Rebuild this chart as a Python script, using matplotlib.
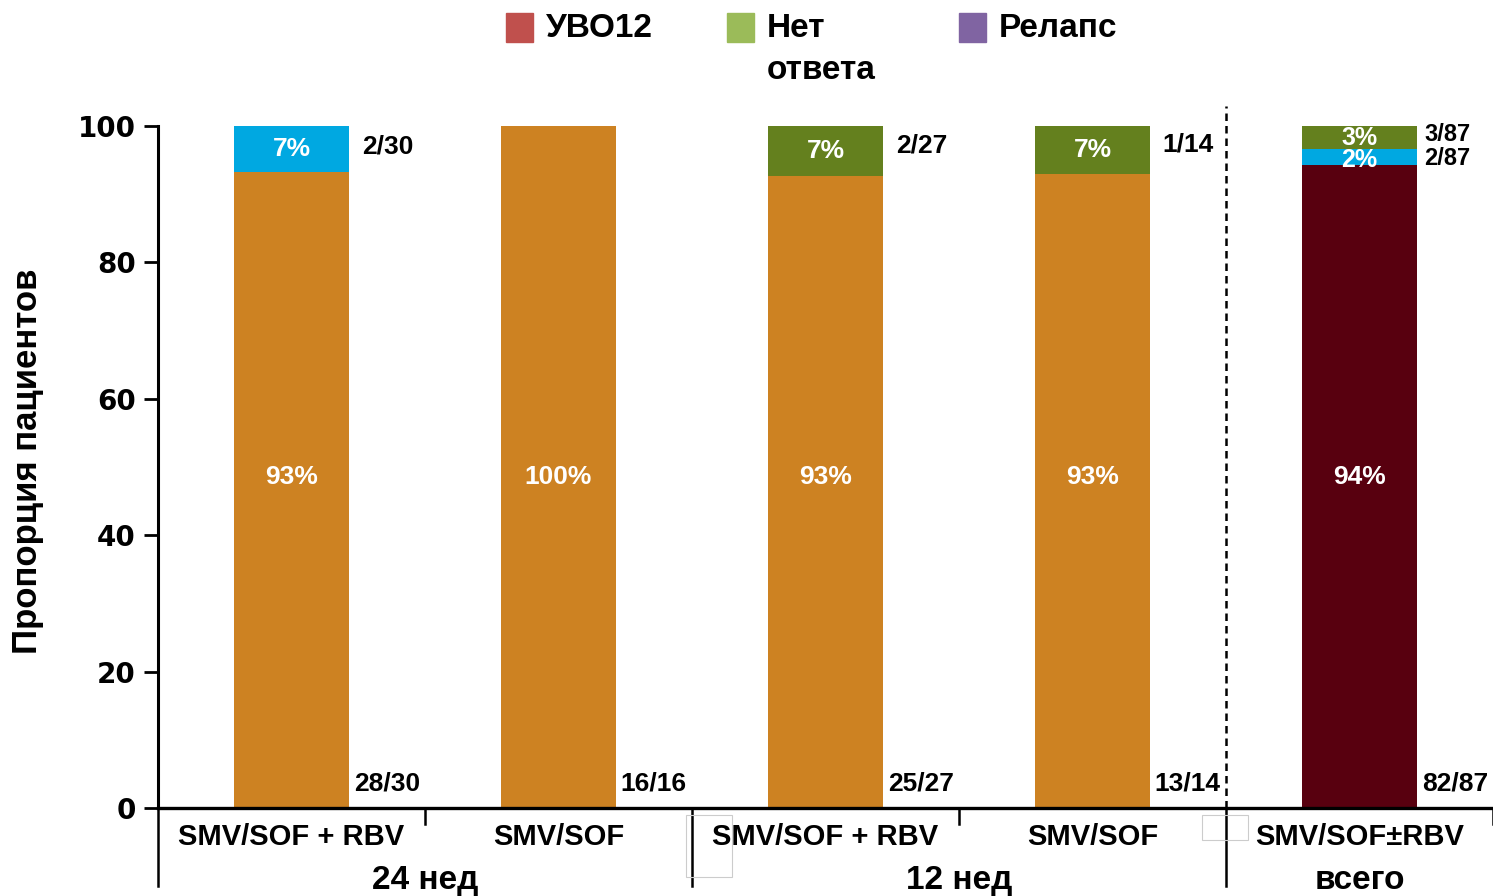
import numpy as np
import matplotlib.pyplot as plt
from matplotlib.patches import Rectangle

plt.rcParams['font.family'] = ['Liberation Sans', 'DejaVu Sans']

# данные
categories = ["SMV/SOF + RBV", "SMV/SOF", "SMV/SOF + RBV", "SMV/SOF", "SMV/SOF±RBV"]
groups = ["24 нед", "12 нед", "всего"]
group_pos = [0.5, 2.5, 4.0]
svr = [93.3, 100.0, 92.6, 92.9, 94.3]
relapse = [6.7, 0.0, 0.0, 0.0, 2.3]
nonresp = [0.0, 0.0, 7.4, 7.1, 3.4]
svr_labels = ["93%", "100%", "93%", "93%", "94%"]
relapse_labels = ["7%", "", "", "", "2%"]
nonresp_labels = ["", "", "7%", "7%", "3%"]
svr_counts = ["28/30", "16/16", "25/27", "13/14", "82/87"]
relapse_counts = ["2/30", "", "", "", "2/87"]
nonresp_counts = ["", "", "2/27", "1/14", "3/87"]
legend_labels = ["УВО12", "Нет\nответа", "Релапс"]
legend_colors = ["#C0504D", "#9BBB59", "#8064A2"]

orange = "#CD8222"
darkred = "#58000F"
blue = "#00A8E1"
green = "#64801E"
bar_colors = [orange, orange, orange, orange, darkred]

fig = plt.figure(figsize=(14.93, 8.96), dpi=100)
ax = fig.add_axes([158/1493, 1 - 808/896, 1 - 158/1493, (808 - 126)/896])

x = np.arange(len(categories))
w = 0.427
ax.bar(x, svr, w, color=bar_colors, zorder=2)
ax.bar(x, relapse, w, bottom=svr, color=blue, zorder=2)
bottom2 = np.array(svr) + np.array(relapse)
ax.bar(x, nonresp, w, bottom=bottom2, color=green, zorder=2)

small = [False, False, False, False, True]
for i in range(len(x)):
    ax.text(x[i], 48.6, svr_labels[i], color="white", fontsize=19, fontweight="bold",
            ha="center", va="center")
    ax.text(x[i] + w/2 + 0.02, 3.6, svr_counts[i], fontsize=19, fontweight="bold",
            ha="left", va="center", clip_on=False)
    fs_in = 18 if small[i] else 19
    fs_out = 17 if small[i] else 19
    if relapse[i] > 0:
        yc = svr[i] + relapse[i] / 2
        ax.text(x[i], yc - (0.4 if small[i] else 0), relapse_labels[i], color="white",
                fontsize=fs_in, fontweight="bold", ha="center", va="center")
        ax.text(x[i] + w/2 + (0.03 if small[i] else 0.05), yc - (0.2 if small[i] else -0.4),
                relapse_counts[i], fontsize=fs_out, fontweight="bold", ha="left", va="center")
    if nonresp[i] > 0:
        yc = bottom2[i] + nonresp[i] / 2
        ax.text(x[i], yc, nonresp_labels[i], color="white",
                fontsize=fs_in, fontweight="bold", ha="center", va="center", clip_on=False)
        ax.text(x[i] + w/2 + (0.03 if small[i] else 0.05), yc + (0.4 if small[i] else 0.8),
                nonresp_counts[i], fontsize=fs_out, fontweight="bold", ha="left",
                va="center", clip_on=False)

# подписи категорий и групп
for i, c in enumerate(categories):
    ax.text(x[i], -4.3, c, fontsize=21, fontweight="bold", ha="center", va="center",
            clip_on=False)
for g, p in zip(groups, group_pos):
    ax.text(p, -10.6, g, fontsize=24, fontweight="bold", ha="center", va="center",
            clip_on=False)

# разделители
for xs, long_ in [(-0.5, True), (0.5, False), (1.5, True), (2.5, False), (3.5, True), (4.5, False)]:
    ax.plot([xs, xs], [0, -11.4 if long_ else -2.4], color="black", lw=1.8,
            clip_on=False, zorder=3)
ax.plot([3.5, 3.5], [0, 103], color="black", lw=1.8, ls=(0, (3, 2)), clip_on=False)

ax.set_xlim(-0.5, 4.5)
ax.set_ylim(0, 100)
ax.set_xticks([])
ax.set_yticks([0, 20, 40, 60, 80, 100])
ax.tick_params(axis="y", length=10, width=2, direction="out", pad=6)
for lab in ax.get_yticklabels():
    lab.set_fontfamily("DejaVu Sans")
    lab.set_fontweight("bold")
    lab.set_fontsize(20)
ax.spines["top"].set_visible(False)
ax.spines["right"].set_visible(False)
ax.spines["left"].set_linewidth(2.2)
ax.spines["bottom"].set_linewidth(2.4)
fig.text(28/1493, 1 - 461/896, "Пропорция пациентов", fontsize=25, fontweight="bold",
         rotation=90, ha="center", va="center")

# легенда
leg_x = [506, 727, 959]
for lx, lab, col in zip(leg_x, legend_labels, legend_colors):
    fig.add_artist(Rectangle((lx/1493, 1 - 42/896), 27/1493, 29/896,
                             transform=fig.transFigure, color=col))
    fig.text((lx + 40)/1493, 1 - 13/896, lab, fontsize=24, fontweight="bold",
             ha="left", va="top", linespacing=1.45)

# серые рамки
for rx, ry, rw, rh in [(686, 815, 46, 62), (1202, 815, 46, 25)]:
    fig.add_artist(Rectangle((rx/1493, 1 - (ry + rh)/896), rw/1493, rh/896,
                             transform=fig.transFigure, fill=False, ec="#cccccc", lw=0.8))

fig.savefig("out.png", dpi=100)
